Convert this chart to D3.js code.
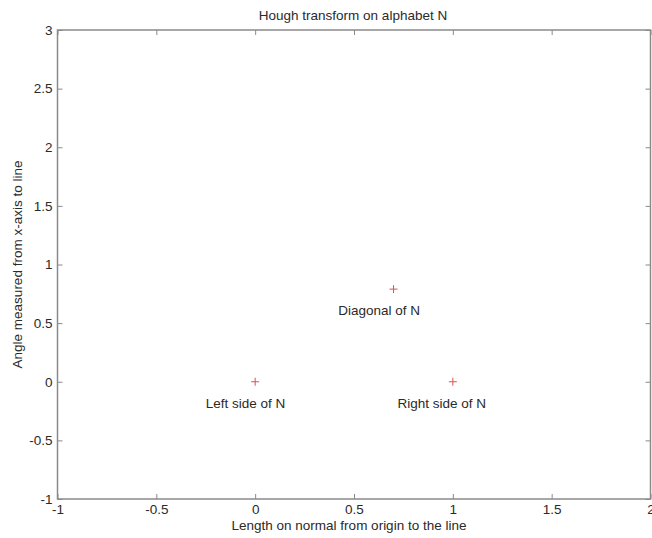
<!DOCTYPE html>
<html>
<head>
<meta charset="utf-8">
<script src="https://cdn.jsdelivr.net/npm/d3@7"></script>
<style>
  body { margin: 0; background: #fff; }
  svg text { font-family: "Liberation Sans", Arial, sans-serif; font-size: 13.5px; fill: #2a2a2a; }
</style>
</head>
<body>
<div id="chart"></div>
<script>
// peaks found by the Hough transform: [rho, theta]
const pointNames = ["Left side of N", "Right side of N", "Diagonal of N"];
const rhoValues = [0, 1, 0.7];
const thetaValues = [0, 0, 0.79];
// where each annotation starts (data units)
const labelX = [-0.25, 0.72, 0.42];
const labelY = [-0.18, -0.18, 0.61];

const xTicks = [-1, -0.5, 0, 0.5, 1, 1.5, 2];
const yTicks = [-1, -0.5, 0, 0.5, 1, 1.5, 2, 2.5, 3];

const W = 652, H = 538;
const margin = {top: 30, right: 1.5, bottom: 39, left: 57.5};
const width = W - margin.left - margin.right;
const height = H - margin.top - margin.bottom;
const axisColor = "#8a8a8a";
const fmt = d => String(d); // plain hyphen minus, like the original

const svg = d3.select("#chart").append("svg")
    .attr("width", W).attr("height", H);
const g = svg.append("g")
    .attr("transform", `translate(${margin.left},${margin.top})`);

const x = d3.scaleLinear().domain([-1, 2]).range([0, width]);
const y = d3.scaleLinear().domain([-1, 3]).range([height, 0]);

// box
g.append("rect").attr("width", width).attr("height", height)
    .attr("fill", "none").attr("stroke", axisColor).attr("stroke-width", 1.5);

function styleAxis(sel) {
    sel.select(".domain").remove();
    sel.selectAll(".tick line").attr("stroke", axisColor);
    sel.selectAll(".tick text").style("font-size", "13.5px").attr("fill", "#2a2a2a");
}

// bottom / left with labels, ticks pointing inward
g.append("g").attr("transform", `translate(0,${height})`)
    .call(d3.axisBottom(x).tickValues(xTicks).tickFormat(fmt).tickSizeInner(-5).tickPadding(5))
    .call(styleAxis);
g.append("g")
    .call(d3.axisLeft(y).tickValues(yTicks).tickFormat(fmt).tickSizeInner(-5).tickPadding(5))
    .call(styleAxis);
// top / right ticks only
g.append("g")
    .call(d3.axisTop(x).tickValues(xTicks).tickFormat("").tickSizeInner(-5))
    .call(styleAxis);
g.append("g").attr("transform", `translate(${width},0)`)
    .call(d3.axisRight(y).tickValues(yTicks).tickFormat("").tickSizeInner(-5))
    .call(styleAxis);

// markers
const pts = rhoValues.map((r, i) => ({name: pointNames[i], rho: r, theta: thetaValues[i], lx: labelX[i], ly: labelY[i]}));
const mk = g.append("g").selectAll("g").data(pts).enter().append("g")
    .attr("transform", d => `translate(${x(d.rho)},${y(d.theta)})`);
mk.append("line").attr("x1", -4).attr("x2", 4).attr("stroke", "#d9534f").attr("stroke-width", 1);
mk.append("line").attr("y1", -4).attr("y2", 4).attr("stroke", "#d9534f").attr("stroke-width", 1);

g.append("g").selectAll("text").data(pts).enter().append("text")
    .attr("x", d => x(d.lx)).attr("y", d => y(d.ly))
    .attr("dy", "0.35em")
    .text(d => d.name);

// titles
svg.append("text").attr("x", 353).attr("y", 20)
    .attr("text-anchor", "middle").text("Hough transform on alphabet N");
svg.append("text").attr("x", 349).attr("y", 530)
    .attr("text-anchor", "middle").text("Length on normal from origin to the line");
svg.append("text").attr("transform", `translate(22,${margin.top + height / 2}) rotate(-90)`)
    .attr("text-anchor", "middle").text("Angle measured from x-axis to line");
</script>
</body>
</html>
